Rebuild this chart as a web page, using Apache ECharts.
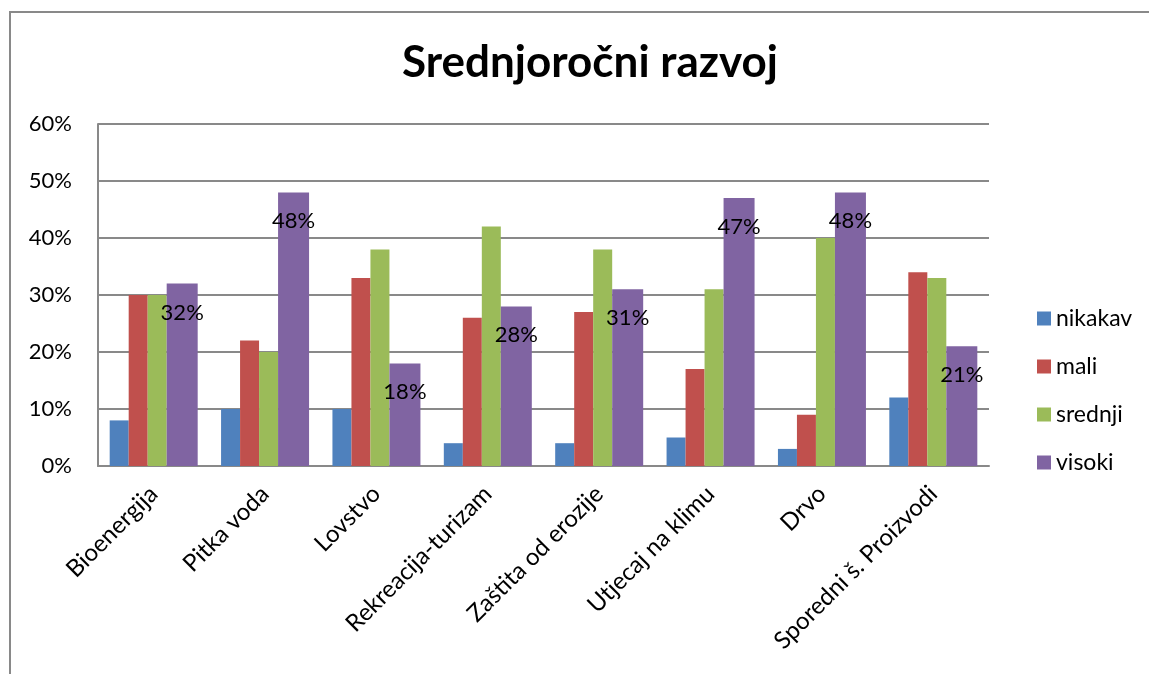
<!DOCTYPE html>
<html>
<head>
<meta charset="utf-8">
<script src="https://cdn.jsdelivr.net/npm/echarts@6/dist/echarts.min.js"></script>
<style>
html,body{margin:0;padding:0;background:#fff;}
#chart{width:1149px;height:674px;}
</style>
</head>
<body>
<div id="chart"></div>
<script>
const titleText = 'Srednjoročni razvoj';
const categories = ['Bioenergija', 'Pitka voda', 'Lovstvo', 'Rekreacija-turizam', 'Zaštita od erozije', 'Utjecaj na klimu', 'Drvo', 'Sporedni š. Proizvodi'];
const seriesNames = ['nikakav', 'mali', 'srednji', 'visoki'];
const nikakav = [8, 10, 10, 4, 4, 5, 3, 12];
const mali = [30, 22, 33, 26, 27, 17, 9, 34];
const srednji = [30, 20, 38, 42, 38, 31, 40, 33];
const visoki = [32, 48, 18, 28, 31, 47, 48, 21];
const yTicks = [0, 10, 20, 30, 40, 50, 60];

const colors = ['#4F81BD', '#C0504D', '#9BBB59', '#8064A2'];
const values = [nikakav, mali, srednji, visoki];
const widths = [19, 19, 19, 31];
const FONT = 'Lato';

const chart = echarts.init(document.getElementById('chart'));
const series = values.map((v, i) => ({
  name: seriesNames[i],
  type: 'bar',
  data: v,
  barWidth: widths[i],
  barGap: '0%',
  itemStyle: { color: colors[i] },
  label: i === 3 ? {
    show: true,
    position: 'insideTop',
    distance: 18,
    formatter: p => p.value + '%',
    color: '#000',
    fontFamily: FONT,
    fontSize: 22
  } : { show: false }
}));

chart.setOption({
  animation: false,
  backgroundColor: '#fff',
  textStyle: { fontFamily: FONT },
  graphic: [{
    type: 'rect',
    shape: { x: 10, y: 12, width: 1300, height: 800 },
    style: { fill: 'none', stroke: '#898989', lineWidth: 2 },
    silent: true
  }],
  title: {
    text: titleText,
    left: 585,
    textAlign: 'center',
    top: 36,
    textStyle: { fontFamily: FONT, fontWeight: 'bold', fontSize: 44, color: '#000' }
  },
  legend: {
    orient: 'vertical',
    left: 1032,
    top: 302,
    itemWidth: 14,
    itemHeight: 14,
    itemGap: 25,
    icon: 'rect',
    textStyle: { fontFamily: FONT, fontSize: 23, color: '#000' },
    data: seriesNames
  },
  grid: { left: 98, right: 160, top: 124, bottom: 208, containLabel: false },
  xAxis: {
    type: 'category',
    data: categories,
    axisLine: { lineStyle: { color: '#898989', width: 2 } },
    axisTick: { show: false },
    axisLabel: { rotate: 45, margin: 24, fontFamily: FONT, fontSize: 24, color: '#000', interval: 0 }
  },
  yAxis: {
    type: 'value',
    min: yTicks[0],
    max: yTicks[yTicks.length - 1],
    interval: 10,
    axisLine: { show: true, lineStyle: { color: '#898989', width: 2 } },
    axisTick: { show: false },
    splitLine: { lineStyle: { color: '#898989', width: 2 } },
    axisLabel: { formatter: '{value}%', margin: 26, fontFamily: FONT, fontSize: 22, color: '#000' }
  },
  series: series
});
</script>
</body>
</html>
